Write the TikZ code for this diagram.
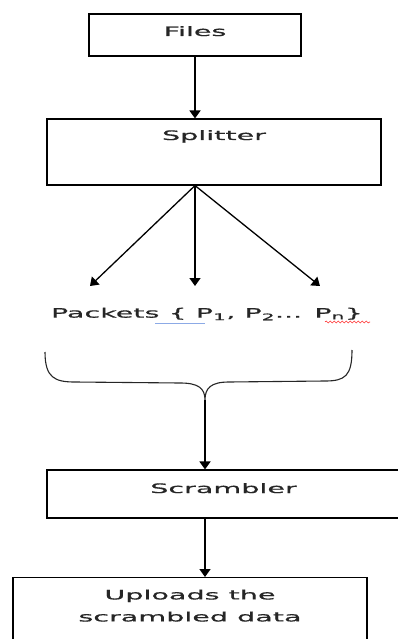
\documentclass[tikz,border=0pt]{standalone}
\usepackage{fontspec}
\newfontfamily\flowfont{DejaVu Sans}[FakeStretch=2.2, FakeBold=0.8]
\usetikzlibrary{arrows.meta, calc, decorations.pathmorphing}
\definecolor{checkblue}{RGB}{140,170,230}

\begin{document}
\begin{tikzpicture}[x=1pt, y=-1pt,
    stage/.style={draw=black, line width=1.1pt, inner sep=0pt,
        font=\flowfont\fontsize{13}{22}\selectfont, text=black!85},
    flow/.style={-{Triangle[width=11pt,length=8pt]}, line width=1.6pt}]
    \clip (0,0) rectangle (398,639);

    % Boxes of the chain
    \node[stage, minimum width=212, text height=10pt, text depth=8pt, inner ysep=12pt] (files) at (195,35) {Files};
    \node[stage, minimum width=334, text height=10pt, text depth=34pt, inner ysep=11pt] (splitter) at (214,152) {Splitter};
    \node[font=\flowfont\fontsize{13}{22}\selectfont, text=black!85, inner sep=0pt] (packets) at (207,314)
        {Packets \{ P\textsubscript{1}, P\textsubscript{2}... P\textsubscript{n}\}};
    \node[stage, minimum width=353, text height=10pt, text depth=12pt, inner ysep=13pt] (scrambler) at (223.5,494) {Scrambler};
    \node[stage, anchor=north, minimum width=354, inner ysep=12pt, align=center] (uploads) at (190,577)
        {Uploads the\\scrambled data\rule[-30pt]{0pt}{0pt}};

    % Splitting into packets
    \draw[flow] (files.south) -- (files.south |- splitter.north);
    \coordinate (split) at (splitter.south -| files.south);
    \coordinate (pleft) at (90,286);
    \coordinate (pright) at (320,286);
    \draw[flow, line width=1.3pt] (split) -- (pleft);
    \draw[flow] (split) -- (split |- pleft);
    \draw[flow, line width=1.3pt] (split) -- (pright);

    % Brace gathering the packets
    \coordinate (tip) at (205,400);
    \draw[line width=1.1pt, black!85] (45,352) .. controls (45,378) and (55,382) .. (75,382) -- (180,383)
        .. controls (198,383) and (205,388) .. (tip)
        .. controls (205,388) and (211,382) .. (229,382) -- (325,381)
        .. controls (345,381) and (352,376) .. (352,350);
    \draw[flow] (tip) -- (tip |- scrambler.north);
    \draw[flow] (scrambler.south -| tip) -- (tip |- uploads.north);

    % Marks of the spell checker
    \draw[checkblue, line width=1pt] (155,323) -- (205,323);
    \draw[red!80, line width=0.6pt, decorate, decoration={snake, amplitude=1pt, segment length=4pt}] (325,322) -- (370,322);
\end{tikzpicture}
\end{document}
